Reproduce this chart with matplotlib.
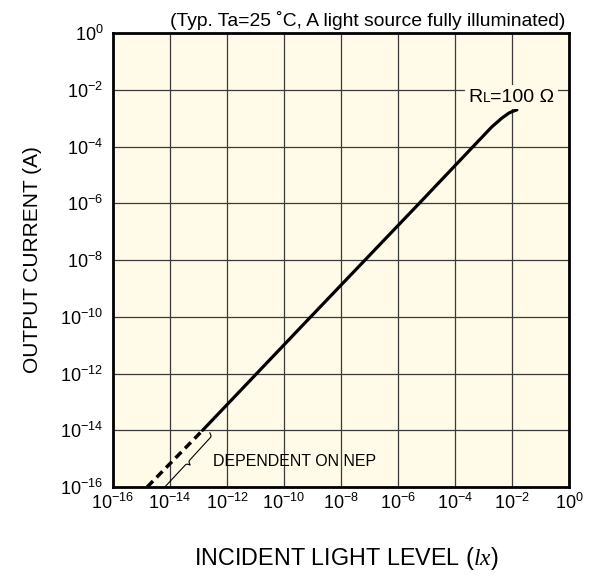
import numpy as np
import matplotlib
matplotlib.use('Agg')
import matplotlib.pyplot as plt
from matplotlib.offsetbox import TextArea, HPacker, AnnotationBbox

plt.rcParams['font.family'] = 'Liberation Sans'
plt.rcParams['mathtext.fontset'] = 'custom'
plt.rcParams['mathtext.rm'] = 'Liberation Sans'
plt.rcParams['mathtext.it'] = 'Liberation Serif:italic'
plt.rcParams['mathtext.bf'] = 'Liberation Sans:bold'

BG = '#fffbe8'

# output current vs incident light (RL = 100 ohm)
light_solid = [1.4e-13, 8.7e-10, 5.6e-6, 3.8e-4, 1.95e-3, 4.4e-3, 7.8e-3, 1.07e-2, 1.48e-2]
current_solid = [1e-14, 1e-10, 1e-6, 8.7e-5, 4.9e-4, 1.0e-3, 1.51e-3, 1.74e-3, 1.95e-3]

# region limited by NEP (dashed)
light_dashed = [1.58e-15, 1.4e-13]
current_dashed = [1e-16, 1e-14]

# brace endpoints for the NEP note
brace_lo = [4.3e-15, 9.8e-17]
brace_hi = [2.5e-13, 8.1e-15]

tick_exps = list(range(-16, 1, 2))


def brace(p0, p1, width, n=200, beta=40.0):
    """Curly brace between two points, built in log space."""
    a = np.log10(p0)
    b = np.log10(p1)
    d = b - a
    L = np.hypot(*d)
    t = d / L
    nrm = np.array([t[1], -t[0]])
    u = np.linspace(0, L / 2, n)
    v = 1 / (1 + np.exp(-beta * (u - u[0]))) + 1 / (1 + np.exp(-beta * (u - u[-1])))
    uu = np.concatenate([u, L - u[::-1]])
    vv = np.concatenate([v, v[::-1]]) - 0.5
    pts = a + np.outer(uu, t) + np.outer(width * vv, nrm)
    return 10 ** pts[:, 0], 10 ** pts[:, 1]


fig = plt.figure(figsize=(5.93, 5.77), dpi=100)
ax = fig.add_axes([113 / 593, 90 / 577, 456 / 593, 454 / 577])
ax.set_facecolor(BG)
ax.set_xscale('log')
ax.set_yscale('log')
ax.set_xlim(1e-16, 1)
ax.set_ylim(1e-16, 1)
ticks = [10.0 ** e for e in tick_exps]
ax.set_xticks(ticks)
ax.set_yticks(ticks)
ax.minorticks_off()
ax.tick_params(length=0, labelsize=13)
ax.tick_params(axis='x', pad=4)
ax.tick_params(axis='y', pad=7)
ax.grid(True, color='#3a3a3a', linewidth=0.9)
ax.set_axisbelow(True)
for s in ax.spines.values():
    s.set_linewidth(2.0)

ax.plot(light_solid, current_solid, color='black', linewidth=2.3,
        solid_capstyle='round', zorder=4)
ax.plot(light_dashed, current_dashed, color='black', linewidth=2.5,
        dashes=(2.4, 1.5), zorder=4)

bx, by = brace(brace_lo, brace_hi, 0.26)
ax.plot(bx, by, color='black', linewidth=0.8, zorder=4)
ax.text(3.3e-13, 8.0e-16, 'DEPENDENT ON NEP', fontsize=11.5,
        ha='left', va='center', zorder=5)

rl = HPacker(children=[TextArea('R', textprops=dict(fontsize=14)),
                       TextArea('L', textprops=dict(fontsize=10)),
                       TextArea('=100 Ω', textprops=dict(fontsize=14))],
             align='baseline', pad=0, sep=0)
ab = AnnotationBbox(rl, (9.6e-3, 5.5e-3), xycoords='data', frameon=True,
                    box_alignment=(0.5, 0.5), pad=0.25,
                    bboxprops=dict(facecolor=BG, edgecolor='none'), zorder=5)
ax.add_artist(ab)

ax.text(1 - 4 / 456, 1 + 7 / 454,
        '(Typ. Ta=25 ˚C, A light source fully illuminated)',
        transform=ax.transAxes, ha='right', va='baseline', fontsize=13.9)

ax.set_xlabel('INCIDENT LIGHT LEVEL ($lx$)', fontsize=16.8)
ax.xaxis.set_label_coords(0.512, -0.128)
ax.set_ylabel('OUTPUT CURRENT (A)', fontsize=15, labelpad=13)

fig.savefig('out.png', dpi=100)
